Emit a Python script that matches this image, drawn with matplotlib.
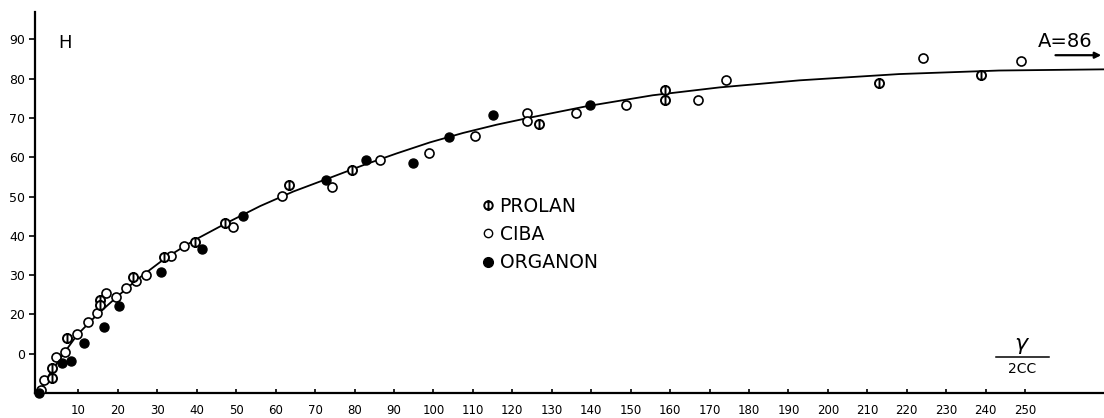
import numpy as np
import matplotlib
matplotlib.use("Agg")
import matplotlib.pyplot as plt
from matplotlib.path import Path
from matplotlib.lines import Line2D

# values (x = gamma / 2cc, y = response)
prolan_x = [3.3, 3.3, 7.1, 15.6, 15.4, 23.8, 31.6, 39.6, 47.2, 63.5, 79.3, 126.8, 158.6, 158.8, 213.0, 238.8]
prolan_y = [3.9, 6.3, 13.9, 23.6, 22.4, 29.6, 34.5, 38.5, 43.3, 52.9, 56.7, 68.6, 77.1, 74.7, 79.0, 80.9]

ciba_x = [0.4, 1.2, 4.2, 6.5, 9.7, 12.4, 14.7, 17.1, 19.5, 22.0, 24.6, 27.1, 33.5, 36.7, 49.3,
          61.6, 74.2, 86.5, 98.9, 110.5, 123.7, 123.7, 136.1, 148.9, 167.2, 174.2, 224.0, 249.0]
ciba_y = [0.8, 3.3, 9.1, 10.5, 15.0, 18.2, 20.3, 25.4, 24.5, 26.7, 28.6, 30.1, 34.9, 37.5, 42.2,
          50.1, 52.4, 59.3, 61.0, 65.4, 71.2, 69.3, 71.3, 73.3, 74.6, 79.6, 85.4, 84.6]

organon_x = [0.0, 5.9, 8.0, 11.3, 16.5, 20.3, 30.9, 41.3, 51.7, 72.8, 82.9, 94.8, 104.0, 115.0, 139.8]
organon_y = [0.0, 7.7, 8.1, 12.8, 16.9, 22.1, 30.7, 36.7, 45.0, 54.2, 59.3, 58.6, 65.2, 70.9, 73.3]

# fitted curve as drawn
curve_x = [0, 3, 6.3, 9.7, 14.7, 19.8, 24.9, 32.0, 39.2, 47.6, 56.1, 64.5, 73.8, 82.2, 90.7,
           99.1, 107.5, 116.0, 124.4, 138.8, 155.6, 172.5, 192.8, 218.1, 243.4, 270.0]
curve_y = [0, 5.3, 10.1, 14.8, 19.9, 24.5, 28.9, 34.3, 38.8, 43.3, 47.6, 51.3, 54.8, 58.0, 61.0,
           63.8, 66.2, 68.3, 70.1, 73.0, 75.8, 77.8, 79.6, 81.2, 82.1, 82.4]

asymptote = 86
x_ticks = list(range(10, 260, 10))
y_ticks = list(range(10, 100, 10))
y_ticklabels = ["0"] + [str(v) for v in y_ticks[1:]]  # the "1" of 10 is lost in the scan

# circle with a vertical bar for PROLAN
bar_circle = Path.make_compound_path(
    Path.unit_circle(),
    Path([(0, -1.15), (0, 1.15)], [Path.MOVETO, Path.LINETO]),
)

plt.rcParams["font.family"] = ["DejaVu Sans"]

fig = plt.figure(figsize=(11.04, 4.18), dpi=100)
ax = fig.add_axes([35 / 1104, 25 / 418, 1 - 35 / 1104, (393 - 12) / 418])

ax.plot(curve_x, curve_y, color="black", lw=1.3, zorder=2)

ms = 6.5
ax.plot(ciba_x, ciba_y, ls="none", marker="o", ms=ms, mfc="white", mec="black", mew=1.2, zorder=3)
ax.plot(organon_x, organon_y, ls="none", marker="o", ms=ms, mfc="black", mec="black", zorder=3, clip_on=False)
ax.plot(prolan_x, prolan_y, ls="none", marker=bar_circle, ms=ms * 1.15, mfc="white", mec="black",
        mew=1.4, zorder=3)

ax.set_xlim(-1, 270)
ax.set_ylim(0, 97)

for s in ("top", "right"):
    ax.spines[s].set_visible(False)
for s in ("left", "bottom"):
    ax.spines[s].set_linewidth(1.6)

ax.set_xticks(x_ticks)
ax.set_xticklabels([str(v) for v in x_ticks])
ax.set_yticks(y_ticks)
ax.set_yticklabels(y_ticklabels)
ax.tick_params(axis="x", direction="in", length=3, width=1.2, pad=8, labelsize=8.5)
ax.tick_params(axis="y", direction="out", length=4, width=1.2, pad=3, labelsize=9)

ax.text(5, 89, "H", fontsize=13, va="center", ha="left")

# asymptote marker
ax.text(253.3, 89.5, f"A={asymptote}", fontsize=14, va="center", ha="left")
ax.annotate("", xy=(270, asymptote), xytext=(257, asymptote),
            arrowprops=dict(arrowstyle="-|>", color="black", lw=1.6, mutation_scale=9),
            annotation_clip=False)

# x-axis unit, gamma per 2 cc
ax.text(249, 12.5, "\u03b3", fontsize=16, ha="center", va="center", style="italic")
ax.plot([242.5, 256], [9.2, 9.2], color="black", lw=1.1)
ax.text(249.3, 6.2, "2CC", fontsize=10, ha="center", va="center")

handles = [
    Line2D([], [], ls="none", marker=bar_circle, ms=7, mfc="white", mec="black", mew=1.4),
    Line2D([], [], ls="none", marker="o", ms=6, mfc="white", mec="black", mew=1.0),
    Line2D([], [], ls="none", marker="o", ms=7, mfc="black", mec="black"),
]
ax.legend(handles, ["PROLAN", "CIBA", "ORGANON"], loc="upper left",
          bbox_to_anchor=(0.41, 0.54), frameon=False, fontsize=13.5,
          handlelength=0.6, handletextpad=0.3, labelspacing=0.5, borderpad=0)

fig.savefig("out.png", dpi=100)
